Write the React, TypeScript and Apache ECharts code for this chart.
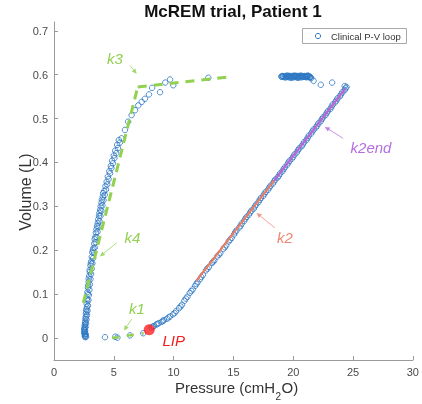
import React, { useEffect, useRef } from "react";
import * as echarts from "echarts";

const FONT = "'Liberation Sans', Arial, Helvetica, sans-serif";

const yTicks = [0, 0.1, 0.2, 0.3, 0.4, 0.5, 0.6, 0.7];
const yTickLabels = ["0", "0.1", "0.2", "0.3", "0.4", "0.5", "0.6", "0.7"];

const baseline: number[][] = [[4.26, 0.002], [5.12, 0.003], [5.3, 0.001], [6.35, 0.006], [7.46, 0.011]];

const inspiration: number[][] = [
  [8.15, 0.024], [8.35, 0.027], [8.55, 0.031], [8.75, 0.034], [9.0, 0.037], [9.2, 0.041], [9.45, 0.044],
  [9.7, 0.049], [9.95, 0.054], [10.2, 0.061], [10.45, 0.068], [10.7, 0.076], [10.9, 0.085], [11.15, 0.094],
  [11.35, 0.103], [11.6, 0.111], [11.8, 0.119], [12.0, 0.127], [12.2, 0.134], [12.45, 0.144], [12.7, 0.154],
  [12.95, 0.162], [13.2, 0.171], [13.4, 0.177], [13.65, 0.186], [13.9, 0.193], [14.15, 0.203], [14.4, 0.211],
  [14.6, 0.22], [14.85, 0.228], [15.05, 0.236], [15.25, 0.245], [15.5, 0.252], [15.7, 0.261], [15.9, 0.267],
  [16.1, 0.276], [16.3, 0.281], [16.5, 0.29], [16.7, 0.295], [16.9, 0.304], [17.1, 0.31], [17.3, 0.319],
  [17.5, 0.324], [17.7, 0.333], [17.9, 0.338], [18.1, 0.347], [18.3, 0.352], [18.5, 0.361], [18.7, 0.366],
  [18.9, 0.375], [19.1, 0.38], [19.3, 0.389], [19.5, 0.395], [19.7, 0.404], [19.9, 0.409], [20.1, 0.418],
  [20.3, 0.423], [20.5, 0.432], [20.7, 0.437], [20.9, 0.446], [21.1, 0.451], [21.3, 0.461], [21.5, 0.466],
  [21.7, 0.475], [21.9, 0.48], [22.1, 0.489], [22.3, 0.494], [22.5, 0.503], [22.7, 0.508], [22.9, 0.517],
  [23.1, 0.522], [23.3, 0.532], [23.5, 0.537], [23.7, 0.546], [23.9, 0.551], [24.1, 0.56], [24.3, 0.565],
  [24.45, 0.572],
];

const inspirationMid: number[][] = [
  [8.25, 0.026], [8.65, 0.032], [9.1, 0.039], [9.58, 0.047], [10.08, 0.057], [10.58, 0.072], [11.02, 0.09],
  [11.48, 0.107], [11.9, 0.123], [12.32, 0.139], [12.82, 0.158], [13.3, 0.174], [13.78, 0.19], [14.28, 0.207],
  [14.72, 0.224], [15.15, 0.241], [15.6, 0.256], [16.0, 0.272], [16.4, 0.286], [16.8, 0.3], [17.2, 0.315],
  [17.6, 0.329], [18.0, 0.343], [18.4, 0.357], [18.8, 0.37], [19.2, 0.385], [19.6, 0.4], [20.0, 0.413],
  [20.4, 0.428], [20.8, 0.441], [21.2, 0.456], [21.6, 0.471], [22.0, 0.484], [22.4, 0.499], [22.8, 0.513],
  [23.2, 0.527], [23.6, 0.541], [24.0, 0.555], [24.38, 0.569],
];

const plateau: number[][] = [
  [24.3, 0.574], [23.25, 0.582], [22.3, 0.577], [21.7, 0.586], [21.5, 0.592], [21.4, 0.595], [21.25, 0.596],
  [21.1, 0.594], [20.95, 0.597], [20.8, 0.595], [20.65, 0.596], [20.5, 0.594], [20.35, 0.597], [20.2, 0.595],
  [20.05, 0.596], [19.9, 0.594], [19.75, 0.597], [19.6, 0.595], [19.45, 0.596], [19.3, 0.594], [19.15, 0.596],
  [19.05, 0.595], [20.6, 0.598], [20.1, 0.598], [19.5, 0.598], [21.2, 0.598], [19.8, 0.593], [20.4, 0.593],
  [19.0, 0.596], [19.1, 0.597], [19.2, 0.595], [19.35, 0.597], [19.4, 0.594], [19.55, 0.596], [19.65, 0.597],
  [19.7, 0.594], [19.85, 0.596], [19.95, 0.597], [20.0, 0.594], [20.15, 0.596], [20.25, 0.597], [20.3, 0.594],
  [20.45, 0.596], [20.55, 0.596], [20.7, 0.594], [20.75, 0.597], [20.85, 0.596], [21.0, 0.596], [21.05, 0.595],
  [21.15, 0.596], [21.3, 0.597], [21.35, 0.594], [21.45, 0.594],
];

const expiration: number[][] = [
  [12.9, 0.593], [9.97, 0.576], [9.7, 0.589], [9.3, 0.582], [8.86, 0.56], [8.2, 0.57], [7.94, 0.555],
  [7.6, 0.545], [7.33, 0.538], [7.05, 0.53], [6.77, 0.519], [6.49, 0.508], [6.2, 0.493], [5.93, 0.474],
  [5.65, 0.455], [5.5, 0.445], [5.35, 0.433], [5.2, 0.421], [5.05, 0.41], [4.92, 0.398], [4.8, 0.387],
  [4.68, 0.375], [4.56, 0.362], [4.45, 0.35], [4.34, 0.338], [4.24, 0.326], [4.14, 0.314], [4.05, 0.302],
  [3.96, 0.29], [3.88, 0.278], [3.8, 0.266], [3.72, 0.254], [3.64, 0.242], [3.56, 0.23], [3.48, 0.218],
  [3.41, 0.206], [3.34, 0.194], [3.27, 0.182], [3.21, 0.17], [3.15, 0.158], [3.1, 0.146], [3.05, 0.134],
  [3.0, 0.122], [2.96, 0.11], [2.92, 0.098], [2.88, 0.086], [2.84, 0.074], [2.8, 0.062], [2.76, 0.052],
  [2.72, 0.042], [2.68, 0.033], [2.64, 0.025], [2.6, 0.017], [2.58, 0.01], [2.62, 0.005], [2.68, 0.003],
  [2.7, 0.06], [2.66, 0.048], [2.62, 0.038], [2.58, 0.03], [2.55, 0.022], [2.56, 0.014], [2.65, 0.009],
  [2.75, 0.07], [2.78, 0.085], [2.82, 0.1], [2.86, 0.12], [2.9, 0.135], [3.0, 0.15], [3.05, 0.165],
  [3.12, 0.175], [3.2, 0.195], [3.3, 0.205], [3.4, 0.225], [3.5, 0.24], [3.6, 0.255], [3.7, 0.27],
  [3.8, 0.285], [3.9, 0.3], [4.0, 0.315], [4.1, 0.33],
];

const expirationLow: number[][] = [
  [2.57, 0.005], [2.6, 0.008], [2.55, 0.018], [2.57, 0.026], [2.6, 0.034], [2.63, 0.044], [2.67, 0.055],
  [2.7, 0.065], [2.73, 0.078], [2.76, 0.09], [2.8, 0.105], [2.84, 0.115], [2.9, 0.128], [2.95, 0.142],
  [2.98, 0.155], [3.08, 0.17], [3.16, 0.185], [3.25, 0.2], [3.36, 0.215], [3.45, 0.23], [3.55, 0.248],
  [3.66, 0.262], [3.76, 0.278], [3.86, 0.292], [3.97, 0.308], [4.08, 0.322], [4.2, 0.335], [4.3, 0.346],
  [4.4, 0.356], [4.5, 0.368], [4.62, 0.38], [4.75, 0.392], [4.86, 0.404], [5.0, 0.416], [5.12, 0.427],
  [5.28, 0.44], [5.42, 0.451], [2.52, 0.012], [2.53, 0.02], [2.61, 0.002],
];

const lip: number[][] = [[7.96, 0.019]];
const k1Line: number[][] = [[4.85, 0.0], [7.5, 0.011]];
const k2Line: number[][] = [[11.9, 0.13], [24.3, 0.566]];
const k2endLine: number[][] = [[18.4, 0.358], [24.35, 0.569]];
const k3Line: number[][] = [[7.0, 0.572], [14.4, 0.594]];
const k4Line: number[][] = [[2.45, 0.08], [7.0, 0.572]];

// annotation anchors in data units: label centre, arrow tail, arrow tip
const annLabels = ["k3", "k4", "k1", "k2", "k2end", "LIP"];
const annText: number[][] = [[5.1, 0.637], [6.56, 0.229], [6.93, 0.068], [19.3, 0.229], [26.5, 0.435], [10.0, -0.005]];
const annFrom: (number[] | null)[] = [[6.35, 0.621], [5.24, 0.217], [6.49, 0.043], [18.46, 0.251], [24.17, 0.455], null];
const annTo: (number[] | null)[] = [[6.91, 0.602], [3.84, 0.186], [5.85, 0.017], [16.93, 0.285], [22.64, 0.481], null];

const GREEN = "#92d050";
const annColor = [GREEN, GREEN, GREEN, "#f08672", "#b36fe0", "#f21d1d"];
const BLUE = "#2a76c2";

export default function App() {
  const ref = useRef<HTMLDivElement>(null);
  useEffect(() => {
    if (!ref.current) return;
    const chart = echarts.init(ref.current, null, { renderer: "svg" });
    const circle = {
      type: "scatter",
      symbol: "circle",
      symbolSize: 5.5,
      itemStyle: { color: "rgba(255,255,255,0)", borderColor: BLUE, borderWidth: 1 },
      z: 2,
    };
    const line = (data: number[][], color: string, width: number, type: any, z: number) => ({
      type: "line",
      data,
      showSymbol: false,
      symbol: "none",
      lineStyle: { color, width, type, cap: "butt" },
      z,
    });
    chart.setOption({
      animation: false,
      textStyle: { fontFamily: FONT },
      grid: { left: 54, right: 9, top: 22, bottom: 44, containLabel: false },
      xAxis: {
        type: "value",
        min: 0,
        max: 30,
        interval: 5,
        axisLine: { show: true, onZero: false, lineStyle: { color: "#9a9a9a", width: 1 } },
        axisTick: { show: true, inside: true, length: 4, lineStyle: { color: "#9a9a9a" } },
        axisLabel: { color: "#4a4a4a", fontSize: 11, margin: 6, fontFamily: FONT },
        splitLine: { show: false },
      },
      yAxis: {
        type: "value",
        min: -0.05,
        max: 0.72,
        axisLine: { show: true, onZero: false, lineStyle: { color: "#9a9a9a", width: 1 } },
        axisTick: { show: true, inside: true, length: 4, customValues: yTicks, lineStyle: { color: "#9a9a9a" } },
        axisLabel: {
          color: "#4a4a4a",
          fontSize: 11,
          margin: 6,
          fontFamily: FONT,
          customValues: yTicks,
          formatter: (v: number) => {
            const i = yTicks.findIndex((t) => Math.abs(t - v) < 1e-6);
            return i >= 0 ? yTickLabels[i] : "";
          },
        },
        splitLine: { show: false },
      },
      series: [
        { ...circle, data: baseline },
        { ...circle, data: inspiration },
        { ...circle, data: inspirationMid },
        { ...circle, data: plateau },
        { ...circle, data: expiration },
        { ...circle, data: expirationLow },
        line(k4Line, GREEN, 3, [9, 6], 3),
        line(k3Line, GREEN, 3, [9, 7], 3),
        line(k1Line, GREEN, 2.5, [7, 8], 3),
        line(k2Line, "#f07a5a", 2, "solid", 4),
        line(k2endLine, "#b266e6", 2, "solid", 5),
        {
          type: "scatter",
          data: lip,
          symbol: "circle",
          symbolSize: 11,
          itemStyle: { color: "#ff1f1f" },
          z: 6,
        },
      ],
    });

    const px = (p: number[]) => chart.convertToPixel({ gridIndex: 0 }, p) as number[];
    const graphics: any[] = [];
    annLabels.forEach((lab, i) => {
      const c = annColor[i];
      const t = px(annText[i]);
      graphics.push({
        type: "text",
        x: t[0],
        y: t[1],
        style: {
          text: lab,
          fill: c,
          font: `italic 15px ${FONT}`,
          textAlign: "center",
          verticalAlign: "middle",
        },
        z: 10,
      });
      const f = annFrom[i];
      const to = annTo[i];
      if (f && to) {
        const a = px(f);
        const b = px(to);
        const dx = b[0] - a[0];
        const dy = b[1] - a[1];
        const len = Math.sqrt(dx * dx + dy * dy);
        const ux = dx / len;
        const uy = dy / len;
        const hl = 5;
        const hw = 2.4;
        const bx = b[0] - ux * hl;
        const by = b[1] - uy * hl;
        graphics.push({
          type: "line",
          shape: { x1: a[0], y1: a[1], x2: bx, y2: by },
          style: { stroke: c, lineWidth: 1, opacity: 0.75 },
          z: 10,
        });
        graphics.push({
          type: "polygon",
          shape: {
            points: [
              [b[0], b[1]],
              [bx - uy * hw, by + ux * hw],
              [bx + uy * hw, by - ux * hw],
            ],
          },
          style: { fill: c, opacity: 0.85 },
          z: 10,
        });
      }
    });

    graphics.push({
      type: "text",
      x: 233,
      y: 11,
      style: { text: "McREM trial, Patient 1", font: `bold 17px ${FONT}`, fill: "#111", textAlign: "center", verticalAlign: "middle" },
    });
    graphics.push({
      type: "text",
      x: 25,
      y: 192,
      rotation: Math.PI / 2,
      style: { text: "Volume (L)", font: `16px ${FONT}`, fill: "#333", textAlign: "center", verticalAlign: "middle" },
    });
    const x0 = 275;
    graphics.push({
      type: "text",
      x: x0,
      y: 387,
      style: { text: "Pressure (cmH", font: `15px ${FONT}`, fill: "#333", textAlign: "right", verticalAlign: "middle" },
    });
    graphics.push({
      type: "text",
      x: x0 + 0.5,
      y: 396,
      style: { text: "2", font: `10px ${FONT}`, fill: "#333", textAlign: "left", verticalAlign: "middle" },
    });
    graphics.push({
      type: "text",
      x: x0 + 6.5,
      y: 387,
      style: { text: "O)", font: `15px ${FONT}`, fill: "#333", textAlign: "left", verticalAlign: "middle" },
    });
    graphics.push({
      type: "rect",
      shape: { x: 302.5, y: 28.5, width: 104, height: 15 },
      style: { fill: "#fff", stroke: "#a8a8a8", lineWidth: 1 },
      z: 20,
    });
    graphics.push({
      type: "circle",
      shape: { cx: 318, cy: 36, r: 2.6 },
      style: { fill: "none", stroke: BLUE, lineWidth: 1 },
      z: 21,
    });
    graphics.push({
      type: "text",
      x: 331,
      y: 36,
      style: { text: "Clinical P-V loop", font: `9.5px ${FONT}`, fill: "#333", textAlign: "left", verticalAlign: "middle" },
      z: 21,
    });

    chart.setOption({ graphic: graphics });
    return () => chart.dispose();
  }, []);
  return <div ref={ref} style={{ position: "fixed", left: 0, top: 0, width: 422, height: 404 }} />;
}
